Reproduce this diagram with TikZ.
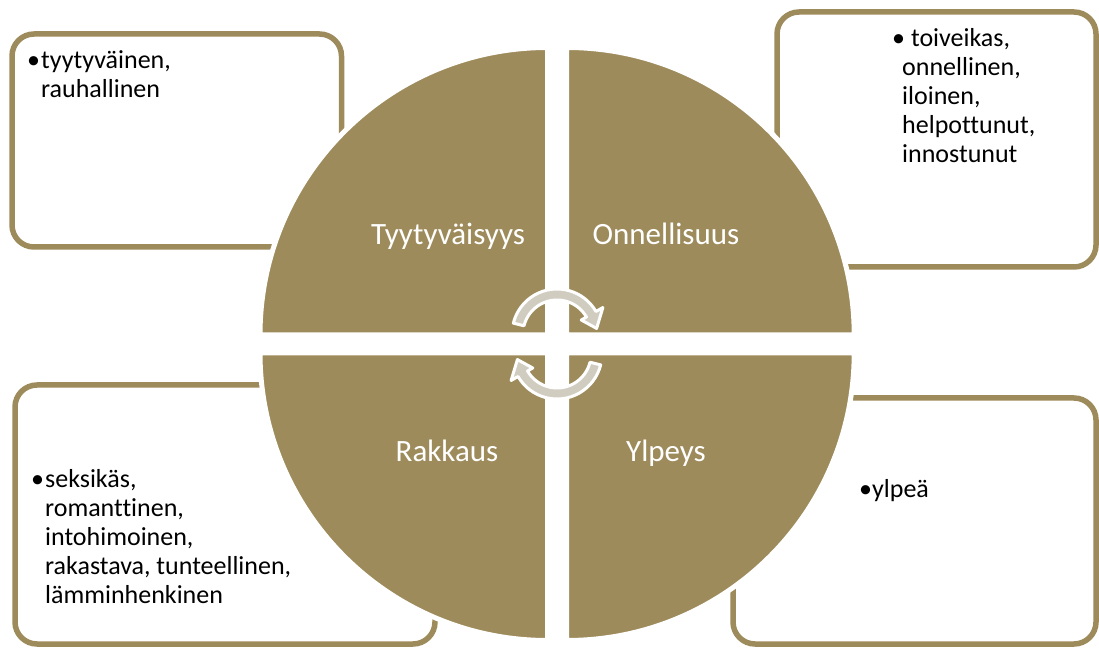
\documentclass[tikz,border=0pt]{standalone}
\usepackage{fontspec}
\setmainfont{Carlito}[Ligatures=NoCommon]
\usepackage{xcolor}
\definecolor{oliv}{RGB}{158,139,91}
\definecolor{pfeilgrau}{RGB}{208,204,192}

\begin{document}
\begin{tikzpicture}[x=1pt, y=1pt,
    kasten/.style={draw=oliv, line width=5.5pt, rounded corners=22pt, fill=white},
    viertel/.style={fill=oliv, draw=white, line width=5pt},
    pfeil/.style={fill=pfeilgrau, draw=white, line width=3pt, line join=round},
    titel/.style={text=white, anchor=base, font=\fontsize{31}{37}\selectfont},
    liste/.style={anchor=base west, inner sep=0pt, font=\fontsize{26}{29}\selectfont}]
\useasboundingbox (0,0) rectangle (1099,648);

% Kaesten
\draw[kasten] (12,401) rectangle (341.5,614);
\draw[kasten] (777,381) rectangle (1096,636);
\draw[kasten] (15,4) rectangle (435,263);
\draw[kasten] (733,4) rectangle (1096,250);

% Viertelkreise
\foreach \cx/\cy/\a in {547.5/313/90, 566.7/313/0, 547.5/295/180, 566.7/295/270}
{
    \filldraw[viertel] (\cx,\cy) -- ++(\a:287.5)
        arc[start angle=\a, delta angle=90, radius=287.5] -- cycle;
}

% Titel
\node[titel] (tyyty) at (448,403) {Tyytyväisyys};
\node[titel] (onni) at (666,403) {Onnellisuus};
\node[titel] (rakkaus) at (447,186) {Rakkaus};
\node[titel] (ylpeys) at (666,186) {Ylpeys};

% Kreispfeile
\filldraw[pfeil, shift={(557,314)}] (166:34) arc[start angle=166, end angle=30, radius=34]
    -- (30:28) -- (8:40) -- (30:53) -- (30:45)
    arc[start angle=30, end angle=166, radius=45] -- cycle;
\filldraw[pfeil, shift={(557,294)}, rotate=180] (166:34) arc[start angle=166, end angle=30, radius=34]
    -- (30:28) -- (8:40) -- (30:53) -- (30:45)
    arc[start angle=30, end angle=166, radius=45] -- cycle;

% Listen
\node[liste] (l-tyyty) at (27,579) {\begin{tabular}[t]{@{}l@{\hspace{1pt}}l@{}}
    \textbullet & tyytyväinen,\\
    & rauhallinen
\end{tabular}};
\node[liste] (l-onni) at (892,601) {\begin{tabular}[t]{@{}l@{}}
    \textbullet\ toiveikas,\\
    \hspace*{10pt}onnellinen,\\
    \hspace*{10pt}iloinen,\\
    \hspace*{10pt}helpottunut,\\
    \hspace*{10pt}innostunut
\end{tabular}};
\node[liste] (l-rakkaus) at (31,161) {\begin{tabular}[t]{@{}l@{\hspace{1pt}}l@{}}
    \textbullet & seksikäs,\\
    & romanttinen,\\
    & intohimoinen,\\
    & rakastava, tunteellinen,\\
    & lämminhenkinen
\end{tabular}};
\node[liste] (l-ylpeys) at (859,151) {\textbullet ylpeä};

\end{tikzpicture}
\end{document}
